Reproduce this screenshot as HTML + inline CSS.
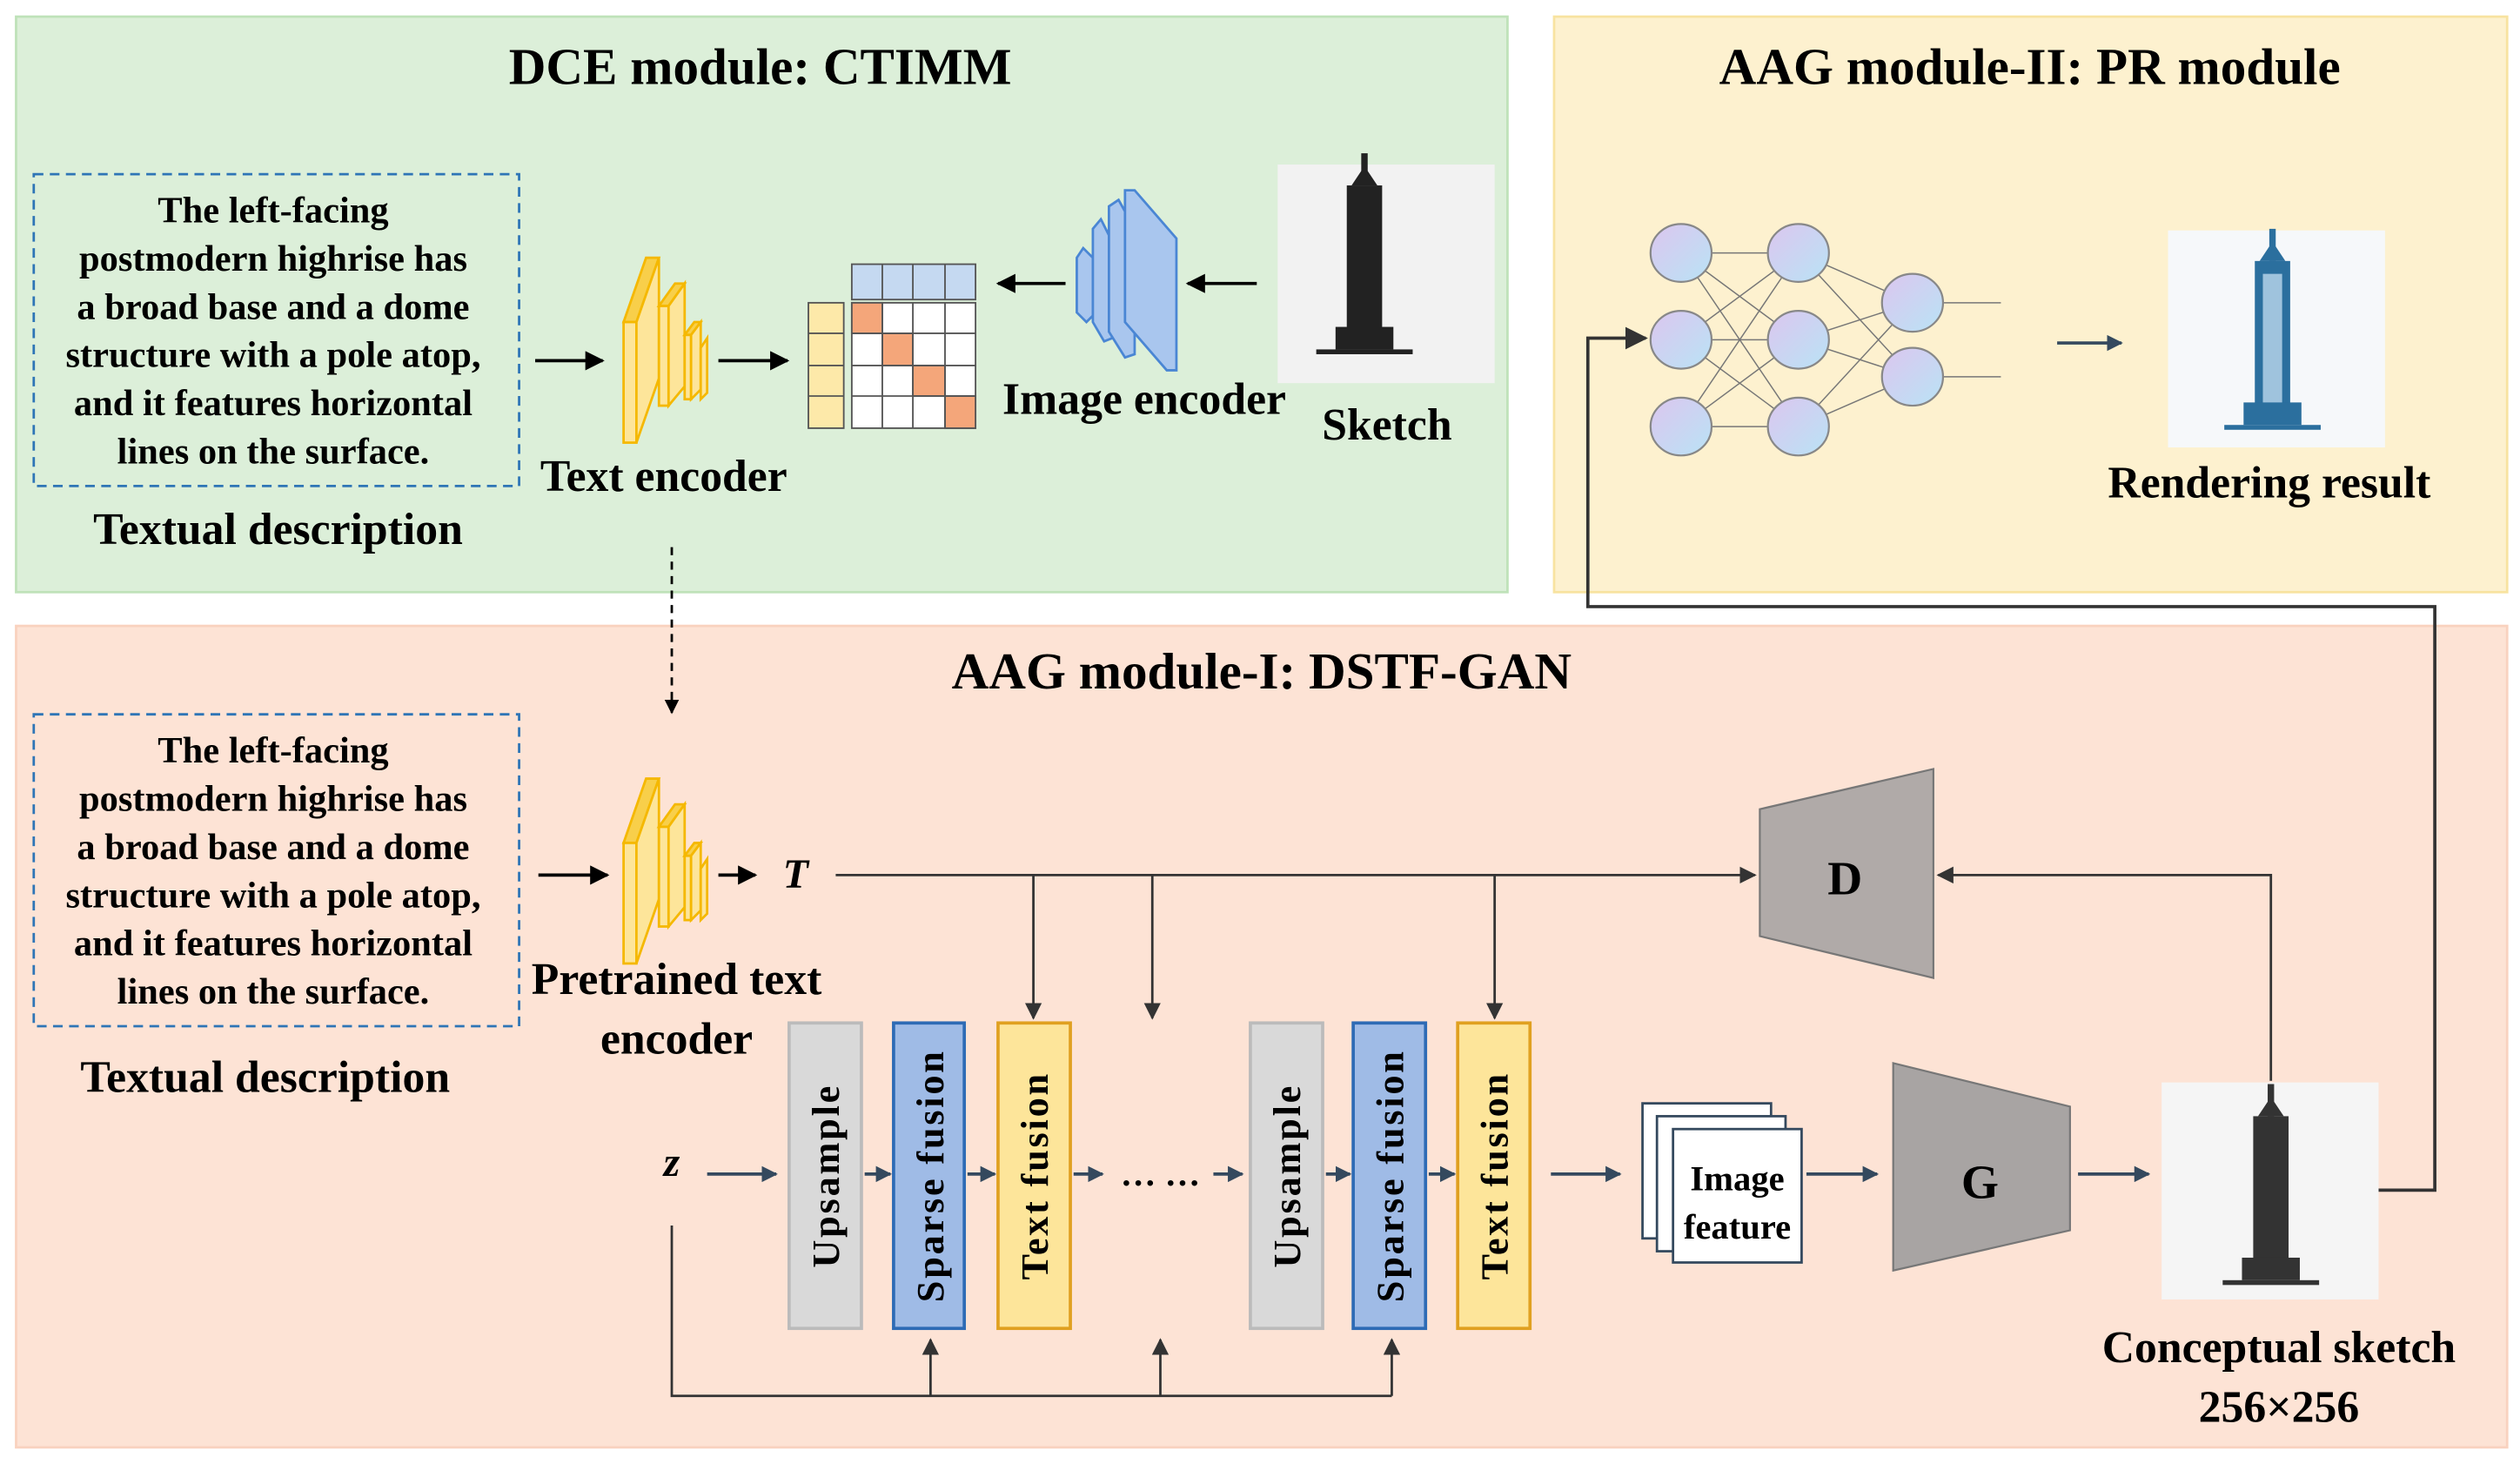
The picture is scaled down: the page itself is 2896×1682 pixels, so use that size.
<!DOCTYPE html>
<html><head><meta charset="utf-8"><style>
html,body{margin:0;padding:0;background:#fff;width:2896px;height:1682px;overflow:hidden}
svg{display:block}
text{font-family:"Liberation Serif","Times New Roman","DejaVu Serif",serif;font-weight:bold;fill:#000}
</style></head><body>
<svg width="2896" height="1682" viewBox="0 0 1568 910" xmlns="http://www.w3.org/2000/svg" font-family="Liberation Serif, serif">
<defs>
<marker id="a" viewBox="0 0 10 10" refX="9" refY="5" markerWidth="6" markerHeight="6" orient="auto"><path d="M0,0L10,5L0,10z" fill="#000"/></marker>
<marker id="b" viewBox="0 0 10 10" refX="9" refY="5" markerWidth="5" markerHeight="5" orient="auto"><path d="M0,0L10,5L0,10z" fill="#34495e"/></marker>
<marker id="c" viewBox="0 0 10 10" refX="9" refY="5" markerWidth="7" markerHeight="7" orient="auto"><path d="M0,0L10,5L0,10z" fill="#333"/></marker>
<linearGradient id="g" x1="0" y1="0" x2="1" y2="1"><stop offset="0" stop-color="#dcc6ef"/><stop offset="1" stop-color="#b9e3f5"/></linearGradient>
<g id="enc" fill="#fde59a" stroke="#f5b800" stroke-width="1.5">
<path d="M0,40L14,0L22,0L8,40z" fill="#f8cf4a"/><rect x="0" y="40" width="8" height="75"/><path d="M8,40L22,0L22,75L8,115z"/>
<path d="M22,30L32,16L38,16L28,30z" fill="#f8cf4a"/><rect x="22" y="30" width="6" height="62"/><path d="M28,30L38,16L38,80L28,92z"/>
<path d="M38,48L44,40L48,40L42,48z" fill="#f8cf4a"/><rect x="38" y="48" width="4" height="40"/><path d="M42,48L48,40L48,82L42,88z"/>
<path d="M48,56L52,50L52,84L48,88z"/></g>
<g id="bld"><rect x="-2" y="-68" width="4" height="20"/><path d="M-8,-48L0,-60L8,-48z"/><rect x="-11" y="-48" width="22" height="100"/><rect x="-18" y="40" width="36" height="14"/><rect x="-30" y="54" width="60" height="3"/></g>
</defs>
<rect x="10" y="10" width="928" height="358" fill="#dcefd9" stroke="#bfe2b9" stroke-width="1.5"/>
<rect x="967" y="10" width="593" height="358" fill="#fdf1cf" stroke="#f8e3a0" stroke-width="1.5"/>
<rect x="10" y="389" width="1550" height="511" fill="#fde3d5" stroke="#f9d2bf" stroke-width="1.5"/>
<text x="473" y="52" font-size="32" text-anchor="middle">DCE module: CTIMM</text>
<text x="1263" y="52" font-size="32" text-anchor="middle">AAG module-II: PR module</text>
<text x="785" y="428" font-size="32" text-anchor="middle">AAG module-I: DSTF-GAN</text>
<g font-size="23" text-anchor="middle">
<rect x="21" y="108" width="302" height="194" fill="none" stroke="#2e75b6" stroke-width="1.5" stroke-dasharray="6,4"/>
<text x="170" y="138">The left-facing</text><text x="170" y="168">postmodern highrise has</text><text x="170" y="198">a broad base and a dome</text><text x="170" y="228">structure with a pole atop,</text><text x="170" y="258">and it features horizontal</text><text x="170" y="288">lines on the surface.</text>
<rect x="21" y="444" width="302" height="194" fill="none" stroke="#2e75b6" stroke-width="1.5" stroke-dasharray="6,4"/>
<text x="170" y="474">The left-facing</text><text x="170" y="504">postmodern highrise has</text><text x="170" y="534">a broad base and a dome</text><text x="170" y="564">structure with a pole atop,</text><text x="170" y="594">and it features horizontal</text><text x="170" y="624">lines on the surface.</text>
</g>
<g font-size="28" text-anchor="middle">
<text x="173" y="338">Textual description</text>
<text x="165" y="679">Textual description</text>
<text x="413" y="305">Text encoder</text>
<text x="712" y="257">Image encoder</text>
<text x="863" y="273">Sketch</text>
<text x="1412" y="309">Rendering result</text>
<text x="421" y="618">Pretrained text</text>
<text x="421" y="655">encoder</text>
<text x="1418" y="847">Conceptual sketch</text>
<text x="1418" y="884">256×256</text>
</g>
<line x1="333" y1="224" x2="375" y2="224" stroke="#000" stroke-width="2" marker-end="url(#a)"/>
<use href="#enc" x="388" y="160"/>
<line x1="447" y1="224" x2="490" y2="224" stroke="#000" stroke-width="2" marker-end="url(#a)"/>
<g stroke="#555" stroke-width="1">
<rect x="530" y="164" width="77" height="22" fill="#c5d9f1"/>
<line x1="549" y1="164" x2="549" y2="186"/><line x1="568" y1="164" x2="568" y2="186"/><line x1="588" y1="164" x2="588" y2="186"/>
<rect x="503" y="188" width="22" height="78" fill="#fde9a9"/>
<line x1="503" y1="207" x2="525" y2="207"/><line x1="503" y1="227" x2="525" y2="227"/><line x1="503" y1="246" x2="525" y2="246"/>
<rect x="530" y="188" width="77" height="78" fill="#fff"/>
<rect x="530" y="188" width="19" height="19" fill="#f4a67a"/><rect x="549" y="207" width="19" height="20" fill="#f4a67a"/><rect x="568" y="227" width="20" height="19" fill="#f4a67a"/><rect x="588" y="246" width="19" height="20" fill="#f4a67a"/>
<line x1="549" y1="188" x2="549" y2="266"/><line x1="568" y1="188" x2="568" y2="266"/><line x1="588" y1="188" x2="588" y2="266"/>
<line x1="530" y1="207" x2="607" y2="207"/><line x1="530" y1="227" x2="607" y2="227"/><line x1="530" y1="246" x2="607" y2="246"/>
</g>
<line x1="663" y1="176" x2="621" y2="176" stroke="#000" stroke-width="2" marker-end="url(#a)"/>
<g fill="#a9c6ee" stroke="#4a86d4" stroke-width="1.5">
<path d="M670,160L674,154L680,160L680,196L676,200L670,194z"/>
<path d="M680,142L685,136L692,150L692,210L687,212L680,200z"/>
<path d="M690,128L696,124L706,142L706,220L700,222L690,206z"/>
<path d="M700,118L706,118L732,148L732,230L726,230L700,200z"/>
</g>
<line x1="782" y1="176" x2="739" y2="176" stroke="#000" stroke-width="2" marker-end="url(#a)"/>
<rect x="795" y="102" width="135" height="136" fill="#f2f2f2"/>
<use href="#bld" x="849" y="163" fill="#222"/>
<line x1="418" y1="340" x2="418" y2="443" stroke="#000" stroke-width="1.5" stroke-dasharray="5,4" marker-end="url(#a)"/>
<g stroke="#777" stroke-width="0.8">
<path d="M1046,157L1119,157M1046,157L1119,211M1046,157L1119,265M1046,211L1119,157M1046,211L1119,211M1046,211L1119,265M1046,265L1119,157M1046,265L1119,211M1046,265L1119,265M1119,157L1190,188M1119,157L1190,234M1119,211L1190,188M1119,211L1190,234M1119,265L1190,188M1119,265L1190,234M1190,188L1245,188M1190,234L1245,234"/>
</g>
<g fill="url(#g)" stroke="#888" stroke-width="1.2">
<ellipse cx="1046" cy="157" rx="19" ry="18"/><ellipse cx="1046" cy="211" rx="19" ry="18"/><ellipse cx="1046" cy="265" rx="19" ry="18"/>
<ellipse cx="1119" cy="157" rx="19" ry="18"/><ellipse cx="1119" cy="211" rx="19" ry="18"/><ellipse cx="1119" cy="265" rx="19" ry="18"/>
<ellipse cx="1190" cy="188" rx="19" ry="18"/><ellipse cx="1190" cy="234" rx="19" ry="18"/>
</g>
<line x1="1280" y1="213" x2="1320" y2="213" stroke="#34495e" stroke-width="2" marker-end="url(#b)"/>
<rect x="1349" y="143" width="135" height="135" fill="#f6f8fa"/>
<use href="#bld" x="1414" y="210" fill="#2b6f9e"/>
<rect x="1408" y="170" width="12" height="80" fill="#9fc3dd"/>
<polyline points="1480,740 1515,740 1515,377 988,377 988,210 1024,210" fill="none" stroke="#333" stroke-width="2" marker-end="url(#c)"/>
<line x1="335" y1="544" x2="378" y2="544" stroke="#000" stroke-width="2" marker-end="url(#a)"/>
<use href="#enc" x="388" y="484"/>
<line x1="447" y1="544" x2="470" y2="544" stroke="#000" stroke-width="2" marker-end="url(#a)"/>
<text x="495" y="552" font-size="26" font-style="italic" text-anchor="middle">T</text>
<g stroke="#333" stroke-width="1.5" fill="none">
<line x1="520" y1="544" x2="1092" y2="544" marker-end="url(#c)"/>
<line x1="643" y1="544" x2="643" y2="633" marker-end="url(#c)"/>
<line x1="717" y1="544" x2="717" y2="633" marker-end="url(#c)"/>
<line x1="930" y1="544" x2="930" y2="633" marker-end="url(#c)"/>
<polyline points="1413,672 1413,544 1206,544" marker-end="url(#c)"/>
<polyline points="418,762 418,868 866,868"/>
<line x1="579" y1="868" x2="579" y2="833" marker-end="url(#c)"/>
<line x1="722" y1="868" x2="722" y2="833" marker-end="url(#c)"/>
<line x1="866" y1="868" x2="866" y2="833" marker-end="url(#c)"/>
</g>
<path d="M1095,503L1203,478L1203,608L1095,582z" fill="#b0aaa8" stroke="#777" stroke-width="1.2"/>
<text x="1148" y="556" font-size="30" text-anchor="middle">D</text>
<text x="418" y="731" font-size="26" font-style="italic" text-anchor="middle">z</text>
<g stroke-width="2">
<rect x="491" y="636" width="45" height="190" fill="#d9d9d9" stroke="#bbb"/>
<rect x="556" y="636" width="44" height="190" fill="#9fbbe6" stroke="#2e6bb5"/>
<rect x="621" y="636" width="45" height="190" fill="#fde59a" stroke="#e0a020"/>
<rect x="778" y="636" width="45" height="190" fill="#d9d9d9" stroke="#bbb"/>
<rect x="842" y="636" width="45" height="190" fill="#9fbbe6" stroke="#2e6bb5"/>
<rect x="907" y="636" width="45" height="190" fill="#fde59a" stroke="#e0a020"/>
</g>
<g font-size="24" text-anchor="middle" letter-spacing="1.5">
<text transform="translate(522,731) rotate(-90)">Upsample</text>
<text transform="translate(587,731) rotate(-90)">Sparse fusion</text>
<text transform="translate(652,731) rotate(-90)">Text fusion</text>
<text transform="translate(809,731) rotate(-90)">Upsample</text>
<text transform="translate(873,731) rotate(-90)">Sparse fusion</text>
<text transform="translate(938,731) rotate(-90)">Text fusion</text>
</g>
<g stroke="#34495e" stroke-width="2" marker-end="url(#b)">
<line x1="440" y1="730" x2="483" y2="730"/>
<line x1="538" y1="730" x2="554" y2="730"/>
<line x1="602" y1="730" x2="619" y2="730"/>
<line x1="668" y1="730" x2="686" y2="730"/>
<line x1="755" y1="730" x2="773" y2="730"/>
<line x1="825" y1="730" x2="840" y2="730"/>
<line x1="889" y1="730" x2="905" y2="730"/>
<line x1="965" y1="730" x2="1008" y2="730"/>
<line x1="1124" y1="730" x2="1168" y2="730"/>
<line x1="1293" y1="730" x2="1337" y2="730"/>
</g>
<text x="722" y="737" font-size="22" text-anchor="middle">… …</text>
<g fill="#fff" stroke="#34495e" stroke-width="1.5">
<rect x="1022" y="686" width="80" height="84"/><rect x="1031" y="694" width="80" height="84"/><rect x="1041" y="702" width="80" height="83"/>
</g>
<text x="1081" y="740" font-size="22" text-anchor="middle">Image</text>
<text x="1081" y="770" font-size="22" text-anchor="middle">feature</text>
<path d="M1178,661L1288,688L1288,765L1178,790z" fill="#a8a4a3" stroke="#777" stroke-width="1.2"/>
<text x="1232" y="745" font-size="30" text-anchor="middle">G</text>
<rect x="1345" y="673" width="135" height="135" fill="#f5f5f5"/>
<use href="#bld" x="1413" y="742" fill="#333"/>
</svg>
</body></html>
